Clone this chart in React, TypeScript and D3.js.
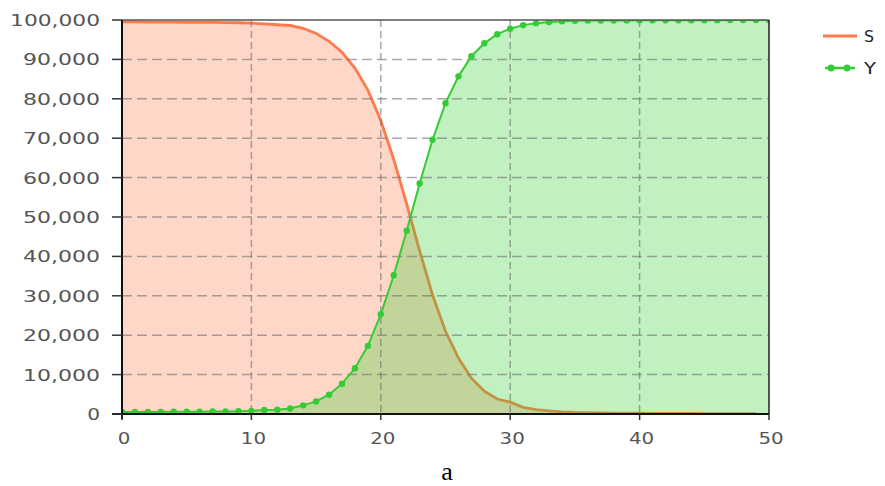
import React from "react";
import * as d3 from "d3";

const S_VALUES = [
  99500, 99500, 99480, 99460, 99440, 99420, 99400, 99380, 99350, 99300,
  99200, 99000, 98800, 98600, 97900, 96600, 94600, 91800, 87800, 82200,
  74500, 64600, 53300, 41400, 30200, 21000, 14200, 9100, 5800, 3800,
  3000, 1700, 1100, 800, 550, 400, 330, 280, 240, 210,
  190, 170, 150, 140, 130, 120, 110, 100, 100, 100,
];
const Y_VALUES = [
  500, 500, 520, 540, 560, 580, 600, 620, 650, 700,
  800, 1000, 1100, 1400, 2200, 3200, 4900, 7700, 11600, 17300,
  25300, 35200, 46500, 58500, 69600, 78900, 85700, 90800, 94100, 96400,
  97800, 98700, 99200, 99500, 99700, 99800, 99850, 99880, 99900, 99900,
  99920, 99930, 99940, 99950, 99950, 99960, 99960, 99970, 99970, 99970,
  99980,
];
const X_TICKS = [0, 10, 20, 30, 40, 50];
const Y_TICKS = [0, 10000, 20000, 30000, 40000, 50000, 60000, 70000, 80000, 90000, 100000];
const SERIES_NAMES = ["S", "Y"];
const CAPTION = "a";

const W = 885;
const H = 486;
const M = { left: 122, right: 769, top: 20, bottom: 414 };
const S_COLOR = "#ff7a4a";
const Y_COLOR = "#33cc33";
const CHAR_W = 12.85;

export default function App() {
  const x = d3.scaleLinear().domain([0, 50]).range([M.left, M.right]);
  const y = d3.scaleLinear().domain([0, 100000]).range([M.bottom, M.top]);
  const fmt = d3.format(",");

  const sData = S_VALUES.map((v, i) => [i, v] as [number, number]);
  const yData = Y_VALUES.map((v, i) => [i, v] as [number, number]);

  const line = d3
    .line<[number, number]>()
    .x((d) => x(d[0]))
    .y((d) => y(d[1]));
  const area = d3
    .area<[number, number]>()
    .x((d) => x(d[0]))
    .y0(y(0))
    .y1((d) => y(d[1]));

  const gridColor = "#6f6f6f";
  const textColor = "#555";

  return (
    <div style={{ position: "absolute", left: 0, top: 0 }}>
      <svg width={W} height={H} style={{ display: "block" }}>
        <rect x={0} y={0} width={W} height={H} fill="#fff" />
        <defs>
          <clipPath id="plot">
            <rect x={M.left} y={M.top} width={M.right - M.left} height={M.bottom - M.top} />
          </clipPath>
        </defs>
        <g clipPath="url(#plot)">
          <path d={area(sData) || ""} fill={S_COLOR} fillOpacity={0.3} />
          <path d={line(sData) || ""} fill="none" stroke={S_COLOR} strokeWidth={2.8} />
          <path d={area(yData) || ""} fill={Y_COLOR} fillOpacity={0.3} />
        </g>
        {/* grid */}
        <g>
          {Y_TICKS.filter((t) => t > 0 && t < 100000).map((t) => (
            <line
              key={"h" + t}
              x1={M.left}
              x2={M.right}
              y1={y(t)}
              y2={y(t)}
              stroke={gridColor}
              strokeOpacity={0.6}
              strokeWidth={1.5}
              strokeDasharray="10,5"
            />
          ))}
          {X_TICKS.filter((t) => t > 0 && t < 50).map((t) => (
            <line
              key={"v" + t}
              x1={x(t)}
              x2={x(t)}
              y1={M.top}
              y2={M.bottom}
              stroke={gridColor}
              strokeOpacity={0.6}
              strokeWidth={1.5}
              strokeDasharray="7,4"
            />
          ))}
        </g>
        <g clipPath="url(#plot)">
          <path d={line(yData) || ""} fill="none" stroke={Y_COLOR} strokeWidth={2} />
          {yData.map((d) => (
            <circle key={d[0]} cx={x(d[0])} cy={y(d[1])} r={3.2} fill={Y_COLOR} />
          ))}
        </g>
        {/* frame */}
        <line x1={M.left} x2={M.right} y1={M.top} y2={M.top} stroke="#555" strokeWidth={1.5} />
        <line x1={M.right} x2={M.right} y1={M.top} y2={M.bottom} stroke="#222" strokeWidth={1.5} />
        <line x1={M.left} x2={M.left} y1={M.top} y2={M.bottom + 5} stroke="#111" strokeWidth={2} />
        <line x1={M.left - 10} x2={M.right} y1={M.bottom} y2={M.bottom} stroke="#111" strokeWidth={2} />
        {/* y axis */}
        {Y_TICKS.map((t) => {
          const label = fmt(t);
          return (
            <g key={"yt" + t}>
              <line x1={M.left - 10} x2={M.left} y1={y(t)} y2={y(t)} stroke="#333" strokeWidth={1.5} />
              <text
                x={100}
                y={y(t) + 6}
                textAnchor="end"
                fontFamily="DejaVu Sans"
                fontSize={16}
                fill={textColor}
                textLength={label.length * CHAR_W}
                lengthAdjust="spacingAndGlyphs"
              >
                {label}
              </text>
            </g>
          );
        })}
        {/* x axis */}
        {X_TICKS.map((t) => {
          const label = String(t);
          return (
            <g key={"xt" + t}>
              <line x1={x(t)} x2={x(t)} y1={M.bottom} y2={M.bottom + 6} stroke="#333" strokeWidth={1.5} />
              <text
                x={x(t) + 2}
                y={444}
                textAnchor="middle"
                fontFamily="DejaVu Sans"
                fontSize={16}
                fill={textColor}
                textLength={label.length * 12.6}
                lengthAdjust="spacingAndGlyphs"
              >
                {label}
              </text>
            </g>
          );
        })}
        {/* legend */}
        <g>
          <line x1={823} x2={857} y1={36} y2={36} stroke={S_COLOR} strokeWidth={3} />
          <text x={864} y={42} fontFamily="DejaVu Sans" fontSize={16} fill="#222" textLength={10} lengthAdjust="spacingAndGlyphs">
            {SERIES_NAMES[0]}
          </text>
          <line x1={825} x2={855} y1={68} y2={68} stroke={Y_COLOR} strokeWidth={2.5} />
          <circle cx={831} cy={68} r={3.5} fill={Y_COLOR} />
          <circle cx={847} cy={68} r={3.5} fill={Y_COLOR} />
          <text x={864} y={74} fontFamily="DejaVu Sans" fontSize={16} fill="#222" textLength={12} lengthAdjust="spacingAndGlyphs">
            {SERIES_NAMES[1]}
          </text>
        </g>
        <text x={447} y={480} textAnchor="middle" fontFamily="Liberation Serif" fontSize={26} fill="#000">
          {CAPTION}
        </text>
      </svg>
    </div>
  );
}
